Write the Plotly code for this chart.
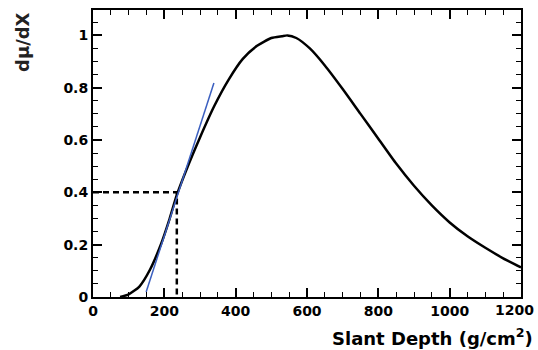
import plotly.graph_objects as go

# Cascade profile
depth = [76, 100, 130, 160, 190, 215, 235, 260, 300, 340, 380, 420, 460, 500, 530, 545, 570,
         608, 650, 700, 750, 800, 850, 900, 950, 1000, 1050, 1100, 1150, 1200]
dmu = [0.0, 0.01, 0.04, 0.105, 0.20, 0.30, 0.39, 0.48, 0.61, 0.73, 0.83, 0.91, 0.96, 0.99,
       0.997, 1.0, 0.99, 0.95, 0.885, 0.795, 0.70, 0.605, 0.51, 0.425, 0.35, 0.285, 0.232,
       0.188, 0.148, 0.113]

# Tangent line (blue)
tan_x = [149, 339]
tan_y = [0.019, 0.818]

# Dashed guide at 40% level
guide_x = [0, 235, 235]
guide_y = [0.4, 0.4, 0.0]

X_MAX = 1200

FONT = "DejaVu Sans, Verdana, sans-serif"

fig = go.Figure()
fig.add_trace(go.Scatter(x=guide_x, y=guide_y, mode="lines",
                         line=dict(color="black", width=2.5, dash="6px,4px"),
                         hoverinfo="skip", showlegend=False))
fig.add_trace(go.Scatter(x=depth, y=dmu, mode="lines", line_shape="spline",
                         line=dict(color="black", width=2.5, smoothing=0.6),
                         showlegend=False))
fig.add_trace(go.Scatter(x=tan_x, y=tan_y, mode="lines",
                         line=dict(color="#3b5fc0", width=1.5), showlegend=False))

tickfont = dict(family=FONT, size=14, color="black", weight="bold")
axis_common = dict(showline=True, linewidth=2, linecolor="black", mirror="allticks",
                   ticks="inside", ticklen=9, tickwidth=1.5, tickcolor="black",
                   showgrid=False, zeroline=False, tickfont=tickfont)

fig.update_xaxes(range=[0, X_MAX], tickmode="linear", tick0=0, dtick=200,
                 minor=dict(tick0=0, dtick=50, ticks="inside", ticklen=5, tickwidth=1.2,
                            tickcolor="black", showgrid=False),
                 **axis_common)
fig.update_yaxes(range=[0, 1.097], tickmode="linear", tick0=0, dtick=0.2,
                 minor=dict(tick0=0, dtick=0.05, ticks="inside", ticklen=5, tickwidth=1.2,
                            tickcolor="black", showgrid=False),
                 **axis_common)

# Last x tick label (plotly drops it because it overflows the page edge)
fig.add_annotation(text=str(X_MAX), xref="x", yref="paper", x=X_MAX, y=0,
                   xanchor="right", yanchor="top", xshift=15, yshift=-3, showarrow=False,
                   font=tickfont)

fig.add_annotation(text="Slant Depth (g/cm<sup>2</sup>)", xref="paper", yref="paper",
                   x=1, y=0, xanchor="right", yanchor="top", xshift=14, yshift=-26,
                   showarrow=False,
                   font=dict(family=FONT, size=18, color="black", weight="bold"))
fig.add_annotation(text="dμ/dX", xref="paper", yref="paper",
                   x=0, y=1, xanchor="center", yanchor="top", xshift=-71, yshift=0,
                   textangle=-90, showarrow=False,
                   font=dict(family=FONT, size=18, color="#222222", weight="bold"))

fig.update_layout(width=538, height=350, margin=dict(l=93, r=17, t=8, b=53),
                  paper_bgcolor="white", plot_bgcolor="white")

fig.write_html("out.html")
